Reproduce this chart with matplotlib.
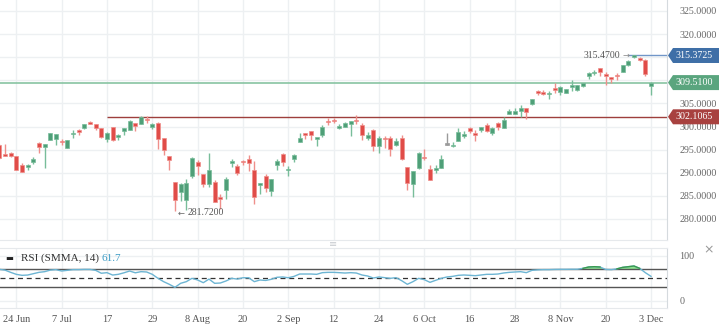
import matplotlib
matplotlib.use("Agg")
import matplotlib.pyplot as plt
from matplotlib.patches import Rectangle, Polygon
import matplotlib.transforms as mtransforms
import numpy as np

plt.rcParams['font.family'] = ['Liberation Serif', 'DejaVu Sans']

# daily candles, first one sits three bars before "24 Jun"
first_index = -3
opens = [296.0, 294.0, 294.2, 293.6, 291.7, 291.3, 292.4, 296.5, 295.6, 297.0,
         297.4, 296.8, 295.4, 298.3, 299.2, 299.6, 301.0, 300.5, 299.6, 297.2,
         299.9, 297.8, 299.1, 299.2, 300.8, 300.6, 301.6, 299.9, 300.7, 297.5,
         293.7, 287.9, 285.8, 284.2, 289.4, 292.4, 289.7, 287.6, 287.9, 284.6,
         286.3, 292.2, 291.5, 292.4, 292.9, 290.7, 287.4, 289.2, 286.1, 291.7,
         294.0, 290.6, 293.0, 296.6, 298.3, 299.1, 297.4, 298.2, 301.1, 301.5,
         299.7, 299.9, 300.5, 301.3, 300.4, 297.5, 299.3, 295.7, 297.3, 297.6,
         296.0, 297.6, 291.2, 287.6, 291.0, 293.3, 290.8, 290.7, 291.0, 296.1,
         295.8, 296.9, 298.0, 299.7, 298.3, 299.3, 300.4, 298.6, 300.7, 299.7,
         302.8, 302.8, 303.4, 304.0, 304.8, 307.7, 307.4, 307.0, 308.1, 307.4,
         307.2, 308.6, 307.8, 308.7, 310.9, 311.5, 312.6, 311.3, 310.7, 311.0,
         311.9, 313.3, 315.0, 314.8, 314.4, 308.7]
highs = [296.2, 296.3, 294.4, 293.6, 292.1, 291.8, 293.4, 296.6, 296.3, 298.6,
         298.4, 297.3, 297.1, 299.2, 299.4, 300.6, 301.1, 300.6, 299.7, 298.8,
         300.0, 298.4, 299.7, 301.4, 300.8, 302.2, 302.2, 300.7, 300.9, 297.5,
         293.7, 287.9, 287.8, 288.6, 293.5, 292.8, 289.7, 294.2, 288.5, 285.4,
         289.0, 293.0, 291.9, 292.7, 293.9, 292.6, 287.8, 289.7, 288.6, 293.0,
         294.3, 291.4, 294.1, 298.6, 298.7, 299.1, 297.6, 300.4, 301.8, 301.8,
         300.6, 300.9, 301.2, 302.5, 300.7, 298.8, 299.5, 297.9, 297.9, 297.9,
         297.6, 298.2, 291.2, 290.3, 294.5, 295.1, 291.7, 291.7, 293.9, 298.6,
         296.6, 299.7, 299.1, 300.0, 299.3, 300.0, 300.7, 299.8, 301.0, 302.0,
         303.8, 304.1, 304.6, 304.0, 306.0, 307.8, 307.8, 307.6, 309.4, 308.7,
         308.2, 310.0, 309.0, 309.5, 311.7, 312.3, 312.6, 311.7, 310.7, 311.5,
         313.3, 314.3, 315.47, 315.0, 314.6, 309.6]
lows = [293.0, 293.6, 293.5, 290.5, 290.1, 290.7, 291.9, 294.2, 291.1, 297.0,
        296.0, 296.1, 295.4, 297.6, 298.1, 299.5, 300.5, 299.2, 297.6, 296.7,
        296.8, 297.0, 298.2, 299.2, 299.1, 300.6, 300.7, 299.5, 295.2, 293.9,
        290.7, 281.72, 283.8, 282.0, 288.9, 289.6, 286.9, 287.0, 283.6, 282.2,
        284.3, 291.2, 289.6, 291.7, 290.3, 283.3, 285.5, 285.8, 285.0, 290.5,
        291.4, 289.2, 292.3, 296.6, 297.3, 297.0, 295.7, 297.7, 300.4, 300.7,
        299.4, 299.9, 298.0, 300.6, 297.1, 297.1, 294.6, 294.3, 295.3, 293.7,
        295.7, 292.8, 286.3, 284.8, 290.8, 292.7, 288.4, 290.0, 291.0, 296.1,
        295.5, 296.9, 297.6, 298.6, 296.9, 298.9, 298.8, 298.2, 299.3, 299.7,
        302.8, 302.7, 302.0, 301.6, 304.7, 306.9, 306.9, 305.9, 307.2, 306.9,
        307.2, 307.6, 307.6, 308.5, 310.2, 311.2, 311.0, 309.0, 309.4, 310.0,
        311.8, 313.1, 314.8, 314.1, 311.0, 306.9]
closes = [293.2, 293.7, 293.6, 290.7, 290.2, 291.5, 293.0, 295.6, 296.3, 298.6,
          298.3, 296.6, 297.1, 298.5, 298.9, 300.5, 300.6, 299.7, 297.8, 298.7,
          297.0, 298.0, 299.7, 301.1, 300.2, 302.0, 301.4, 300.6, 297.3, 295.0,
          292.7, 284.0, 287.6, 287.8, 293.3, 291.5, 287.6, 290.6, 283.6, 284.4,
          288.6, 292.3, 289.9, 292.3, 292.2, 284.8, 287.8, 286.7, 288.6, 292.5,
          292.3, 290.8, 293.8, 297.6, 298.2, 298.1, 297.6, 300.0, 300.9, 301.1,
          300.2, 300.7, 301.1, 301.2, 298.1, 298.1, 295.8, 297.5, 297.2, 295.2,
          296.8, 293.0, 287.8, 290.3, 294.3, 293.1, 288.4, 291.0, 293.0, 296.1,
          296.0, 298.8, 298.1, 299.1, 298.2, 300.0, 299.0, 299.7, 300.0, 301.5,
          303.4, 303.3, 304.1, 303.1, 306.0, 307.2, 307.1, 307.1, 308.0, 308.5,
          308.1, 308.7, 308.9, 309.4, 311.5, 311.9, 311.7, 311.0, 310.3, 310.9,
          313.3, 314.1, 315.4, 314.3, 311.3, 309.51]

rsi_values = [69.7, 68.0, 63.0, 58.6, 56.4, 57.0, 60.0, 63.0, 64.5, 68.0,
              69.0, 66.0, 67.5, 69.0, 69.0, 69.5, 69.5, 67.5, 61.0, 62.3,
              57.0, 58.6, 62.0, 66.0, 62.0, 64.5, 63.8, 58.6, 49.7, 42.3,
              36.4, 29.7, 38.6, 42.3, 49.7, 46.0, 40.0, 48.0, 38.6, 39.3,
              43.8, 49.7, 48.0, 51.0, 51.0, 42.3, 46.0, 45.0, 47.5, 52.0,
              52.7, 51.0, 54.0, 59.3, 59.3, 59.3, 58.6, 62.3, 63.0, 63.0,
              62.3, 61.5, 62.3, 61.5, 57.1, 54.9, 50.4, 52.7, 51.2, 49.7,
              51.2, 44.5, 36.4, 42.3, 49.7, 46.7, 40.8, 45.3, 49.7, 52.7,
              54.1, 56.4, 57.1, 56.4, 55.6, 57.1, 58.6, 58.6, 59.3, 61.6,
              63.0, 63.8, 64.5, 62.3, 67.5, 68.5, 69.0, 69.0, 69.5, 69.7,
              69.7, 69.9, 69.9, 71.9, 74.9, 75.6, 74.9, 69.5, 69.0, 70.8,
              74.1, 75.6, 77.1, 71.9, 62.3, 54.1]
rsi_last = 61.7

date_ticks = [0, 8, 16, 24, 32, 40, 48, 56, 64, 72, 80, 88, 96, 104, 112]
date_labels = ["24 Jun", "7 Jul", "17", "29", "8 Aug", "20", "2 Sep", "12",
               "24", "6 Oct", "16", "28", "8 Nov", "20", "3 Dec"]
price_ticks = [280, 285, 290, 295, 300, 305, 310, 315, 320, 325]
hidden_prices = [310, 315]  # covered by the price tags in the original
rsi_ticks = [0, 100]
rsi_levels = [30, 50, 70]

high_mark = 315.47
low_mark = 281.72
tags = [(315.3725, '#3f6fa7'), (309.51, '#5aa57e'), (302.1065, '#a8413f')]

W, H = 719, 327
fig = plt.figure(figsize=(W / 100, H / 100), dpi=100)
ax = fig.add_axes([0, 1 - 240 / H, 667 / W, 240 / H])
ax2 = fig.add_axes([0, 1 - 307.7 / H, 667 / W, 60 / H])

x = np.arange(len(opens)) + first_index
xmin, xmax = -16.3 / 5.667, (667 - 16.3) / 5.667

up, down, flat = '#4f9f78', '#e04c48', '#9a9a9a'
for xi, o, h, l, c in zip(x, opens, highs, lows, closes):
    if c > o:
        col, edge = up, '#78bd9a'
    elif c < o:
        col, edge = down, '#ef8f8b'
    else:
        col, edge = flat, flat
    ax.vlines(xi, l, h, color=edge, lw=1, zorder=3)
    bottom = min(o, c)
    height = max(abs(c - o), 0.3)
    ax.add_patch(Rectangle((xi - 0.37, bottom), 0.74, height, facecolor=col,
                           edgecolor=edge, lw=0.5, zorder=4))

ax.set_xlim(xmin, xmax)
ax.set_ylim(275.45, 327.38)
ax.set_xticks(date_ticks)
ax.set_yticks(price_ticks)
ax.yaxis.tick_right()
ax.set_yticklabels(["" if p in hidden_prices else f"{p:.4f}" for p in price_ticks])
ax.tick_params(axis='y', length=0, pad=9, labelsize=7.2, labelcolor='#666666')
ax.tick_params(axis='x', length=0, labelbottom=False)
ax.grid(color='#edf0f2', lw=1)
ax.set_axisbelow(True)
for s in ['top', 'left']:
    ax.spines[s].set_visible(False)
ax.spines['right'].set_color('#d5dade')
ax.spines['bottom'].set_color('#e6e9ec')

# reference lines
ax.axhline(309.51, color='#88c4a2', lw=1.2, zorder=2)
ax.hlines(302.1065, 16, xmax, color='#9e3f3c', lw=1, zorder=2)
ax.hlines(315.3725, 108, xmax, color='#7196c8', lw=1, zorder=2)

# price tags on the right
trans = mtransforms.blended_transform_factory(ax.transAxes, ax.transData)
px = 1 / 4.622
for price, col in tags:
    x0, x1, xr = 1.0015, 1.009, W / 667
    poly = Polygon([(x0, price), (x1, price + 7.5 * px), (xr, price + 7.5 * px),
                    (xr, price - 7.5 * px), (x1, price - 7.5 * px)],
                   closed=True, transform=trans, facecolor=col, edgecolor='none',
                   clip_on=False, zorder=10)
    ax.add_patch(poly)
    ax.text(676 / 667, price, f"{price:.4f}", transform=trans, color='white',
            fontsize=7.2, va='center', ha='left', zorder=11, clip_on=False)

ax.text(106.6, high_mark - 0.1, "315.4700", fontsize=7, color='#555555',
        ha='right', va='center', zorder=6)
ax.text(107.0, high_mark - 0.1, "→", fontsize=6, color='#888888',
        ha='left', va='center', zorder=6, family=['DejaVu Sans'])
ax.text(28.4, low_mark - 0.4, "←", fontsize=6, color='#666666',
        ha='left', va='center', zorder=6, family=['DejaVu Sans'])
ax.text(30.2, low_mark - 0.4, "281.7200", fontsize=7, color='#555555',
        ha='left', va='center', zorder=6)

# RSI panel
rsi = np.array(rsi_values)
ax2.set_xlim(xmin, xmax)
ax2.set_ylim(-15.6, 117.8)
ax2.fill_between(x, rsi, 70, where=rsi > 70, interpolate=True,
                 color='#8ee48f', lw=0, zorder=2)
ax2.plot(x, rsi, color='#6db5d3', lw=1, zorder=4)
ax2.plot(x, np.where(rsi > 70, rsi, np.nan), color='#3c9a4c', lw=1, zorder=5)
ax2.axhline(rsi_levels[2], color='#555555', lw=1, zorder=3)
ax2.axhline(rsi_levels[0], color='#555555', lw=1, zorder=3)
ax2.axhline(rsi_levels[1], color='#333333', lw=0.9, ls=(0, (4, 3)), zorder=3)
ax2.set_xticks(date_ticks)
ax2.set_xticklabels(date_labels)
ax2.set_yticks(rsi_ticks)
ax2.yaxis.tick_right()
ax2.tick_params(axis='y', length=0, pad=9, labelsize=7.2, labelcolor='#666666')
ax2.tick_params(axis='x', length=0, pad=5, labelsize=7.5, labelcolor='#555555')
ax2.grid(color='#edf0f2', lw=1)
ax2.set_axisbelow(True)
ax2.spines['left'].set_visible(False)
ax2.spines['right'].set_color('#d5dade')
ax2.spines['top'].set_color('#e6e9ec')
ax2.spines['bottom'].set_color('#e6e9ec')

fig.text(9 / W, 1 - 258 / H, "▬", fontsize=6, color='#222222', ha='center',
         va='center', family=['DejaVu Sans'])
fig.text(21 / W, 1 - 258.5 / H, "RSI (SMMA, 14)", fontsize=8, color='#333333',
         ha='left', va='center')
fig.text(101 / W, 1 - 258.5 / H, f"{rsi_last}", fontsize=8, color='#3d9cc6',
         ha='left', va='center')
fig.text(333 / W, 1 - 244 / H, "≡", fontsize=7, color='#c8ccd0', ha='center',
         va='center', family=['DejaVu Sans'])
fig.text(709 / W, 1 - 250 / H, "×", fontsize=9, color='#999999', ha='center',
         va='center', family=['DejaVu Sans'])

fig.savefig("out.png", dpi=100)
